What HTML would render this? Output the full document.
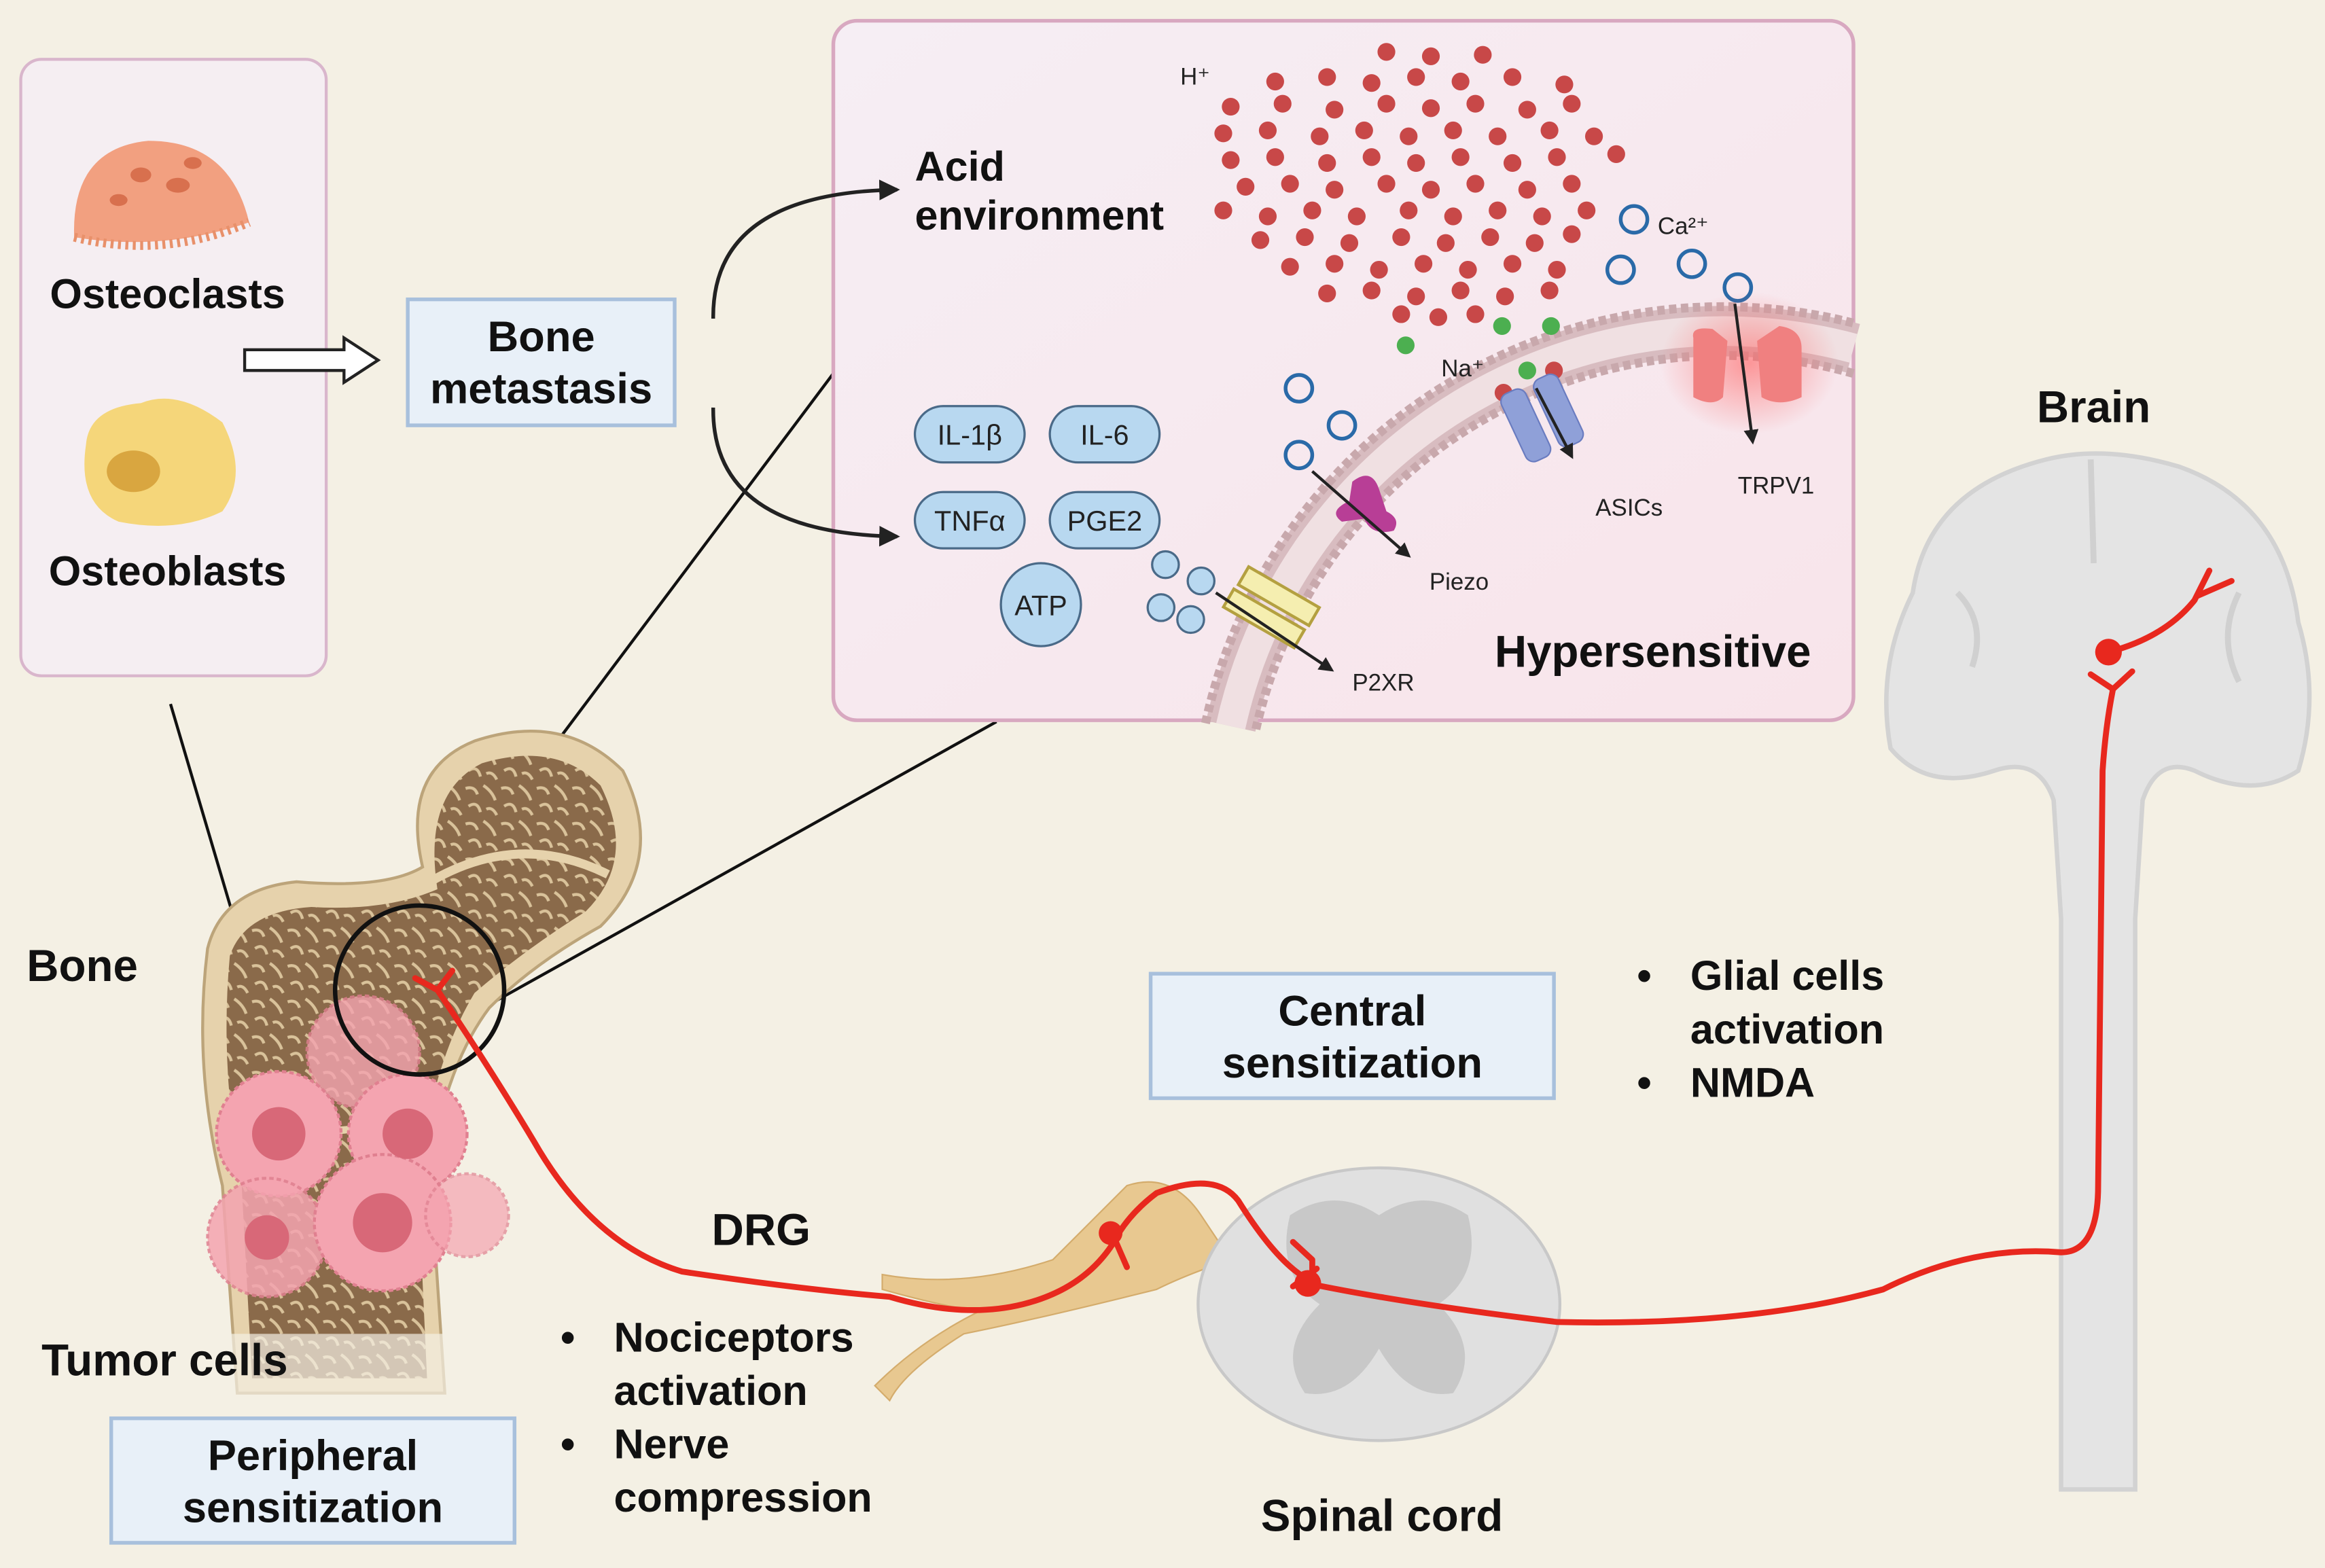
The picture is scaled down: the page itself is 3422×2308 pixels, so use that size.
<!DOCTYPE html>
<html><head><meta charset="utf-8"><style>
html,body{margin:0;padding:0;background:#f4f0e4}
svg{display:block}
text{font-family:"Liberation Sans",sans-serif}
.b{font-weight:bold;fill:#111}
.s{font-size:16px;fill:#222}
</style></head><body>
<svg width="3422" height="2308" viewBox="0 0 1568 1058" preserveAspectRatio="none" xmlns="http://www.w3.org/2000/svg">
<defs>
<marker id="ah" markerWidth="10" markerHeight="10" refX="8" refY="5" orient="auto" markerUnits="userSpaceOnUse"><path d="M0,0 L10,5 L0,10 z" fill="#222"/></marker>
<marker id="ah2" markerWidth="16" markerHeight="16" refX="12" refY="8" orient="auto" markerUnits="userSpaceOnUse"><path d="M0,1 L14,8 L0,15 z" fill="#222"/></marker>
<pattern id="sp" width="24" height="24" patternUnits="userSpaceOnUse"><rect width="24" height="24" fill="#8a6a4a"/><path d="M2,4 Q8,2 10,8 M14,2 Q20,6 22,12 M4,16 Q10,12 12,20 M16,18 Q20,16 23,22" stroke="#d9c29a" stroke-width="2" fill="none"/></pattern>
<radialGradient id="glow"><stop offset="0" stop-color="#ff6060" stop-opacity=".6"/><stop offset="1" stop-color="#ff6060" stop-opacity="0"/></radialGradient>
<linearGradient id="pg" x1="0" y1="0" x2="1" y2="1"><stop offset="0" stop-color="#f6eef4"/><stop offset="1" stop-color="#f8e4ea"/></linearGradient>
</defs>
<rect width="1568" height="1058" fill="#f4f0e4"/>

<!-- left panel -->
<rect x="14" y="40" width="206" height="416" rx="14" fill="#f5eef2" stroke="#d9b6cc" stroke-width="2"/>
<path d="M50,160 Q48,100 100,95 Q155,95 168,150 Q110,170 50,160z" fill="#f2a080"/>
<path d="M50,160 Q110,175 168,150" stroke="#e8906a" stroke-width="6" stroke-dasharray="2 3" fill="none"/>
<ellipse cx="95" cy="118" rx="7" ry="5" fill="#d8704e"/><ellipse cx="120" cy="125" rx="8" ry="5" fill="#d8704e"/><ellipse cx="80" cy="135" rx="6" ry="4" fill="#d8704e"/><ellipse cx="130" cy="110" rx="6" ry="4" fill="#d8704e"/>
<text x="113" y="208" class="b" font-size="28" text-anchor="middle">Osteoclasts</text>
<path d="M58,300 Q60,275 95,272 Q120,262 150,285 Q168,320 150,345 Q120,360 80,352 Q52,340 58,300z" fill="#f5d67a"/>
<ellipse cx="90" cy="318" rx="18" ry="14" fill="#d9a640"/>
<text x="113" y="395" class="b" font-size="28" text-anchor="middle">Osteoblasts</text>

<path d="M165,236 L232,236 L232,228 L255,243 L232,258 L232,250 L165,250z" fill="#fff" stroke="#222" stroke-width="2"/>

<rect x="275" y="202" width="180" height="85" fill="#e8f0f8" stroke="#a8c0dc" stroke-width="2.5"/>
<text x="365" y="237" class="b" font-size="29" text-anchor="middle">Bone</text>
<text x="365" y="272" class="b" font-size="29" text-anchor="middle">metastasis</text>

<!-- zoom lines -->
<line x1="115" y1="475" x2="175" y2="678" stroke="#111" stroke-width="2"/>
<line x1="292" y1="612" x2="562" y2="252" stroke="#111" stroke-width="2"/>
<line x1="335" y1="675" x2="672" y2="487" stroke="#111" stroke-width="2"/>

<!-- big panel -->
<rect x="562" y="14" width="688" height="472" rx="16" fill="url(#pg)" stroke="#d8a8c0" stroke-width="2.5"/>
<path d="M481,215 Q480,130 605,128" stroke="#222" stroke-width="2.5" fill="none" marker-end="url(#ah2)"/>
<path d="M481,275 Q480,360 605,362" stroke="#222" stroke-width="2.5" fill="none" marker-end="url(#ah2)"/>
<text x="617" y="122" class="b" font-size="28">Acid</text>
<text x="617" y="155" class="b" font-size="28">environment</text>

<!-- membrane -->
<path d="M830,490 A340 340 0 0 1 1250,235" stroke="#d8bcc0" stroke-width="34" fill="none"/>
<path d="M830,490 A340 340 0 0 1 1250,235" stroke="#f0e0e2" stroke-width="20" fill="none"/>
<path d="M813,488 A357 357 0 0 1 1250,218" stroke="#c8a8ac" stroke-width="6" stroke-dasharray="5 3" fill="none"/>
<path d="M847,492 A323 323 0 0 1 1250,252" stroke="#c8a8ac" stroke-width="6" stroke-dasharray="5 3" fill="none"/>

<text x="796" y="57" class="s">H⁺</text>
<g fill="#c84848">
<circle cx="935" cy="35" r="6"/><circle cx="965" cy="38" r="6"/><circle cx="1000" cy="37" r="6"/>
<circle cx="860" cy="55" r="6"/><circle cx="895" cy="52" r="6"/><circle cx="925" cy="56" r="6"/><circle cx="955" cy="52" r="6"/><circle cx="985" cy="55" r="6"/><circle cx="1020" cy="52" r="6"/><circle cx="1055" cy="57" r="6"/>
<circle cx="830" cy="72" r="6"/><circle cx="865" cy="70" r="6"/><circle cx="900" cy="74" r="6"/><circle cx="935" cy="70" r="6"/><circle cx="965" cy="73" r="6"/><circle cx="995" cy="70" r="6"/><circle cx="1030" cy="74" r="6"/><circle cx="1060" cy="70" r="6"/>
<circle cx="825" cy="90" r="6"/><circle cx="855" cy="88" r="6"/><circle cx="890" cy="92" r="6"/><circle cx="920" cy="88" r="6"/><circle cx="950" cy="92" r="6"/><circle cx="980" cy="88" r="6"/><circle cx="1010" cy="92" r="6"/><circle cx="1045" cy="88" r="6"/><circle cx="1075" cy="92" r="6"/>
<circle cx="830" cy="108" r="6"/><circle cx="860" cy="106" r="6"/><circle cx="895" cy="110" r="6"/><circle cx="925" cy="106" r="6"/><circle cx="955" cy="110" r="6"/><circle cx="985" cy="106" r="6"/><circle cx="1020" cy="110" r="6"/><circle cx="1050" cy="106" r="6"/><circle cx="1090" cy="104" r="6"/>
<circle cx="840" cy="126" r="6"/><circle cx="870" cy="124" r="6"/><circle cx="900" cy="128" r="6"/><circle cx="935" cy="124" r="6"/><circle cx="965" cy="128" r="6"/><circle cx="995" cy="124" r="6"/><circle cx="1030" cy="128" r="6"/><circle cx="1060" cy="124" r="6"/>
<circle cx="825" cy="142" r="6"/><circle cx="855" cy="146" r="6"/><circle cx="885" cy="142" r="6"/><circle cx="915" cy="146" r="6"/><circle cx="950" cy="142" r="6"/><circle cx="980" cy="146" r="6"/><circle cx="1010" cy="142" r="6"/><circle cx="1040" cy="146" r="6"/><circle cx="1070" cy="142" r="6"/>
<circle cx="850" cy="162" r="6"/><circle cx="880" cy="160" r="6"/><circle cx="910" cy="164" r="6"/><circle cx="945" cy="160" r="6"/><circle cx="975" cy="164" r="6"/><circle cx="1005" cy="160" r="6"/><circle cx="1035" cy="164" r="6"/><circle cx="1060" cy="158" r="6"/>
<circle cx="870" cy="180" r="6"/><circle cx="900" cy="178" r="6"/><circle cx="930" cy="182" r="6"/><circle cx="960" cy="178" r="6"/><circle cx="990" cy="182" r="6"/><circle cx="1020" cy="178" r="6"/><circle cx="1050" cy="182" r="6"/>
<circle cx="895" cy="198" r="6"/><circle cx="925" cy="196" r="6"/><circle cx="955" cy="200" r="6"/><circle cx="985" cy="196" r="6"/><circle cx="1015" cy="200" r="6"/><circle cx="1045" cy="196" r="6"/>
<circle cx="945" cy="212" r="6"/><circle cx="970" cy="214" r="6"/><circle cx="995" cy="212" r="6"/>
<circle cx="1014" cy="265" r="6"/><circle cx="1048" cy="250" r="6"/>
</g>
<g fill="#4caf50"><circle cx="948" cy="233" r="6"/><circle cx="1013" cy="220" r="6"/><circle cx="1046" cy="220" r="6"/><circle cx="1030" cy="250" r="6"/></g>
<g fill="none" stroke="#2a6aa8" stroke-width="2.5"><circle cx="1102" cy="148" r="9"/><circle cx="1093" cy="182" r="9"/><circle cx="1141" cy="178" r="9"/><circle cx="1172" cy="194" r="9"/><circle cx="876" cy="262" r="9"/><circle cx="905" cy="287" r="9"/><circle cx="876" cy="307" r="9"/></g>
<text x="1118" y="158" class="s">Ca²⁺</text>
<text x="972" y="254" class="s">Na⁺</text>

<ellipse cx="1180" cy="245" rx="60" ry="48" fill="url(#glow)"/>
<path d="M1142,228 Q1140,220 1155,222 L1165,230 L1162,268 Q1155,275 1142,268z M1185,230 L1200,220 Q1215,222 1215,235 L1215,268 Q1200,275 1188,268z" fill="#f08080"/>
<rect x="1020" y="262" width="18" height="50" rx="6" fill="#8fa0d8" stroke="#6a7cc0" transform="rotate(-25 1029 287)"/>
<rect x="1042" y="252" width="18" height="50" rx="6" fill="#8fa0d8" stroke="#6a7cc0" transform="rotate(-25 1051 277)"/>
<path d="M912,325 Q925,315 930,330 L935,345 Q945,350 940,358 Q925,362 920,350 L905,352 Q895,345 910,338z" fill="#b83e96"/>
<rect x="825" y="410" width="55" height="14" fill="#f5eeb0" stroke="#b4a040" stroke-width="2" transform="rotate(30 852 417)"/>
<rect x="835" y="395" width="55" height="14" fill="#f5eeb0" stroke="#b4a040" stroke-width="2" transform="rotate(30 862 402)"/>
<g stroke="#222" stroke-width="2" marker-end="url(#ah)">
<line x1="1170" y1="205" x2="1182" y2="298"/><line x1="1036" y1="262" x2="1060" y2="308"/><line x1="885" y1="318" x2="950" y2="375"/><line x1="820" y1="400" x2="898" y2="452"/></g>
<text x="1172" y="333" class="s">TRPV1</text><text x="1076" y="348" class="s">ASICs</text><text x="964" y="398" class="s">Piezo</text><text x="912" y="466" class="s">P2XR</text>
<text x="1008" y="450" class="b" font-size="30">Hypersensitive</text>

<g fill="#b8d8f0" stroke="#4a6a88" stroke-width="1.5">
<rect x="617" y="274" width="74" height="38" rx="19"/><rect x="708" y="274" width="74" height="38" rx="19"/>
<rect x="617" y="332" width="74" height="38" rx="19"/><rect x="708" y="332" width="74" height="38" rx="19"/>
<ellipse cx="702" cy="408" rx="27" ry="28"/>
<circle cx="786" cy="381" r="9"/><circle cx="810" cy="392" r="9"/><circle cx="783" cy="410" r="9"/><circle cx="803" cy="418" r="9"/></g>
<g font-size="19" fill="#222" text-anchor="middle"><text x="654" y="300">IL-1β</text><text x="745" y="300">IL-6</text><text x="654" y="358">TNFα</text><text x="745" y="358">PGE2</text><text x="702" y="415">ATP</text></g>

<!-- bone -->
<path d="M140,640 Q150,600 200,595 Q260,600 285,585 Q270,520 320,500 Q380,480 420,520 Q450,580 405,625 Q360,650 330,680 Q300,720 290,790 L300,940 L160,940 L150,800 Q130,720 140,640z" fill="#e6d2ac" stroke="#bca47a" stroke-width="2"/>
<path d="M155,645 Q165,615 210,612 Q260,615 295,600 Q285,535 325,515 Q375,500 405,530 Q430,580 395,615 Q355,640 320,670 Q290,720 282,800 L288,930 L170,930 L163,800 Q148,720 155,645z" fill="url(#sp)"/>
<path d="M290,595 Q350,560 410,590" stroke="#e6d2ac" stroke-width="6" fill="none"/>
<path d="M165,760 Q225,770 285,752" stroke="#e6d2ac" stroke-width="5" fill="none"/>
<rect x="140" y="900" width="175" height="45" fill="#f4f0e4" opacity=".7"/>
<g fill="#f4a4b0" stroke="#e08090" stroke-width="2" stroke-dasharray="3 2">
<circle cx="245" cy="710" r="38" opacity=".8"/><circle cx="188" cy="765" r="42"/><circle cx="275" cy="765" r="40"/><circle cx="180" cy="835" r="40" opacity=".85"/><circle cx="258" cy="825" r="46"/><circle cx="315" cy="820" r="28" opacity=".7"/></g>
<g fill="#d86878"><circle cx="188" cy="765" r="18"/><circle cx="275" cy="765" r="17"/><circle cx="258" cy="825" r="20"/><circle cx="180" cy="835" r="15"/></g>
<circle cx="283" cy="668" r="57" fill="none" stroke="#111" stroke-width="3"/>
<text x="18" y="662" class="b" font-size="30">Bone</text>
<text x="28" y="928" class="b" font-size="30">Tumor cells</text>
<rect x="75" y="957" width="272" height="84" fill="#e8f0f8" stroke="#a8c0dc" stroke-width="2.5"/>
<text x="211" y="992" class="b" font-size="29" text-anchor="middle">Peripheral</text>
<text x="211" y="1027" class="b" font-size="29" text-anchor="middle">sensitization</text>

<!-- DRG -->
<path d="M595,860 Q650,870 710,850 Q740,820 760,800 Q790,790 810,820 L830,850 Q800,860 780,870 Q700,890 650,900 Q610,925 600,945 L590,935 Q620,905 660,885 Q630,880 595,870z" fill="#e8c890" stroke="#d4ac6c"/>
<text x="480" y="840" class="b" font-size="30">DRG</text>
<g class="b" font-size="28"><text x="378" y="912">•</text><text x="414" y="912">Nociceptors</text><text x="414" y="948">activation</text><text x="378" y="984">•</text><text x="414" y="984">Nerve</text><text x="414" y="1020">compression</text></g>

<!-- spinal cord -->
<ellipse cx="930" cy="880" rx="122" ry="92" fill="#e0e0e0" stroke="#c8c8c8" stroke-width="2"/>
<path d="M930,820 Q900,800 870,820 Q860,860 890,880 Q860,910 880,940 Q910,945 930,910 Q950,945 980,940 Q1000,910 970,880 Q1000,860 990,820 Q960,800 930,820z" fill="#c8c8c8"/>
<text x="932" y="1033" class="b" font-size="30" text-anchor="middle">Spinal cord</text>

<!-- brain -->
<path d="M1290,400 Q1300,330 1380,310 Q1420,300 1470,315 Q1540,340 1550,420 Q1565,470 1550,520 Q1520,540 1480,520 Q1455,510 1445,540 L1440,620 L1440,1005 L1390,1005 L1390,620 L1385,540 Q1375,510 1345,520 Q1300,535 1275,505 Q1265,450 1290,400z" fill="#e4e4e4" stroke="#d2d2d2" stroke-width="3"/>
<path d="M1410,310 L1412,380 M1320,400 Q1340,420 1330,450 M1510,400 Q1495,430 1510,460" stroke="#d0d0d0" stroke-width="4" fill="none"/>
<text x="1412" y="285" class="b" font-size="30" text-anchor="middle">Brain</text>

<rect x="776" y="657" width="272" height="84" fill="#e8f0f8" stroke="#a8c0dc" stroke-width="2.5"/>
<text x="912" y="692" class="b" font-size="29" text-anchor="middle">Central</text>
<text x="912" y="727" class="b" font-size="29" text-anchor="middle">sensitization</text>
<g class="b" font-size="28"><text x="1104" y="668">•</text><text x="1140" y="668">Glial cells</text><text x="1140" y="704">activation</text><text x="1104" y="740">•</text><text x="1140" y="740">NMDA</text></g>

<!-- nerves -->
<g stroke="#e8281e" stroke-width="4" fill="none" stroke-linecap="round">
<path d="M295,668 Q330,720 360,770 Q400,840 460,858 Q540,870 600,875 Q650,890 690,880 Q730,870 750,840 Q760,820 780,805 Q820,790 835,810 Q860,850 880,862"/>
<path d="M295,668 L280,660 M295,668 L305,655"/>
<path d="M750,832 L760,855"/>
<path d="M885,850 L872,838 M885,850 L885,865 M888,856 L872,868"/>
<path d="M882,866 Q950,880 1050,892 Q1180,895 1270,870 Q1330,840 1390,845 Q1415,845 1415,800 L1418,520 Q1420,490 1425,465 M1422,440 Q1460,430 1480,405 L1490,385 M1482,402 L1505,392"/>
<path d="M1425,465 L1410,455 M1425,465 L1438,453"/>
</g>
<g fill="#e8281e"><circle cx="749" cy="832" r="8"/><circle cx="882" cy="866" r="9"/><circle cx="1422" cy="440" r="9"/></g>
</svg>
</body></html>
